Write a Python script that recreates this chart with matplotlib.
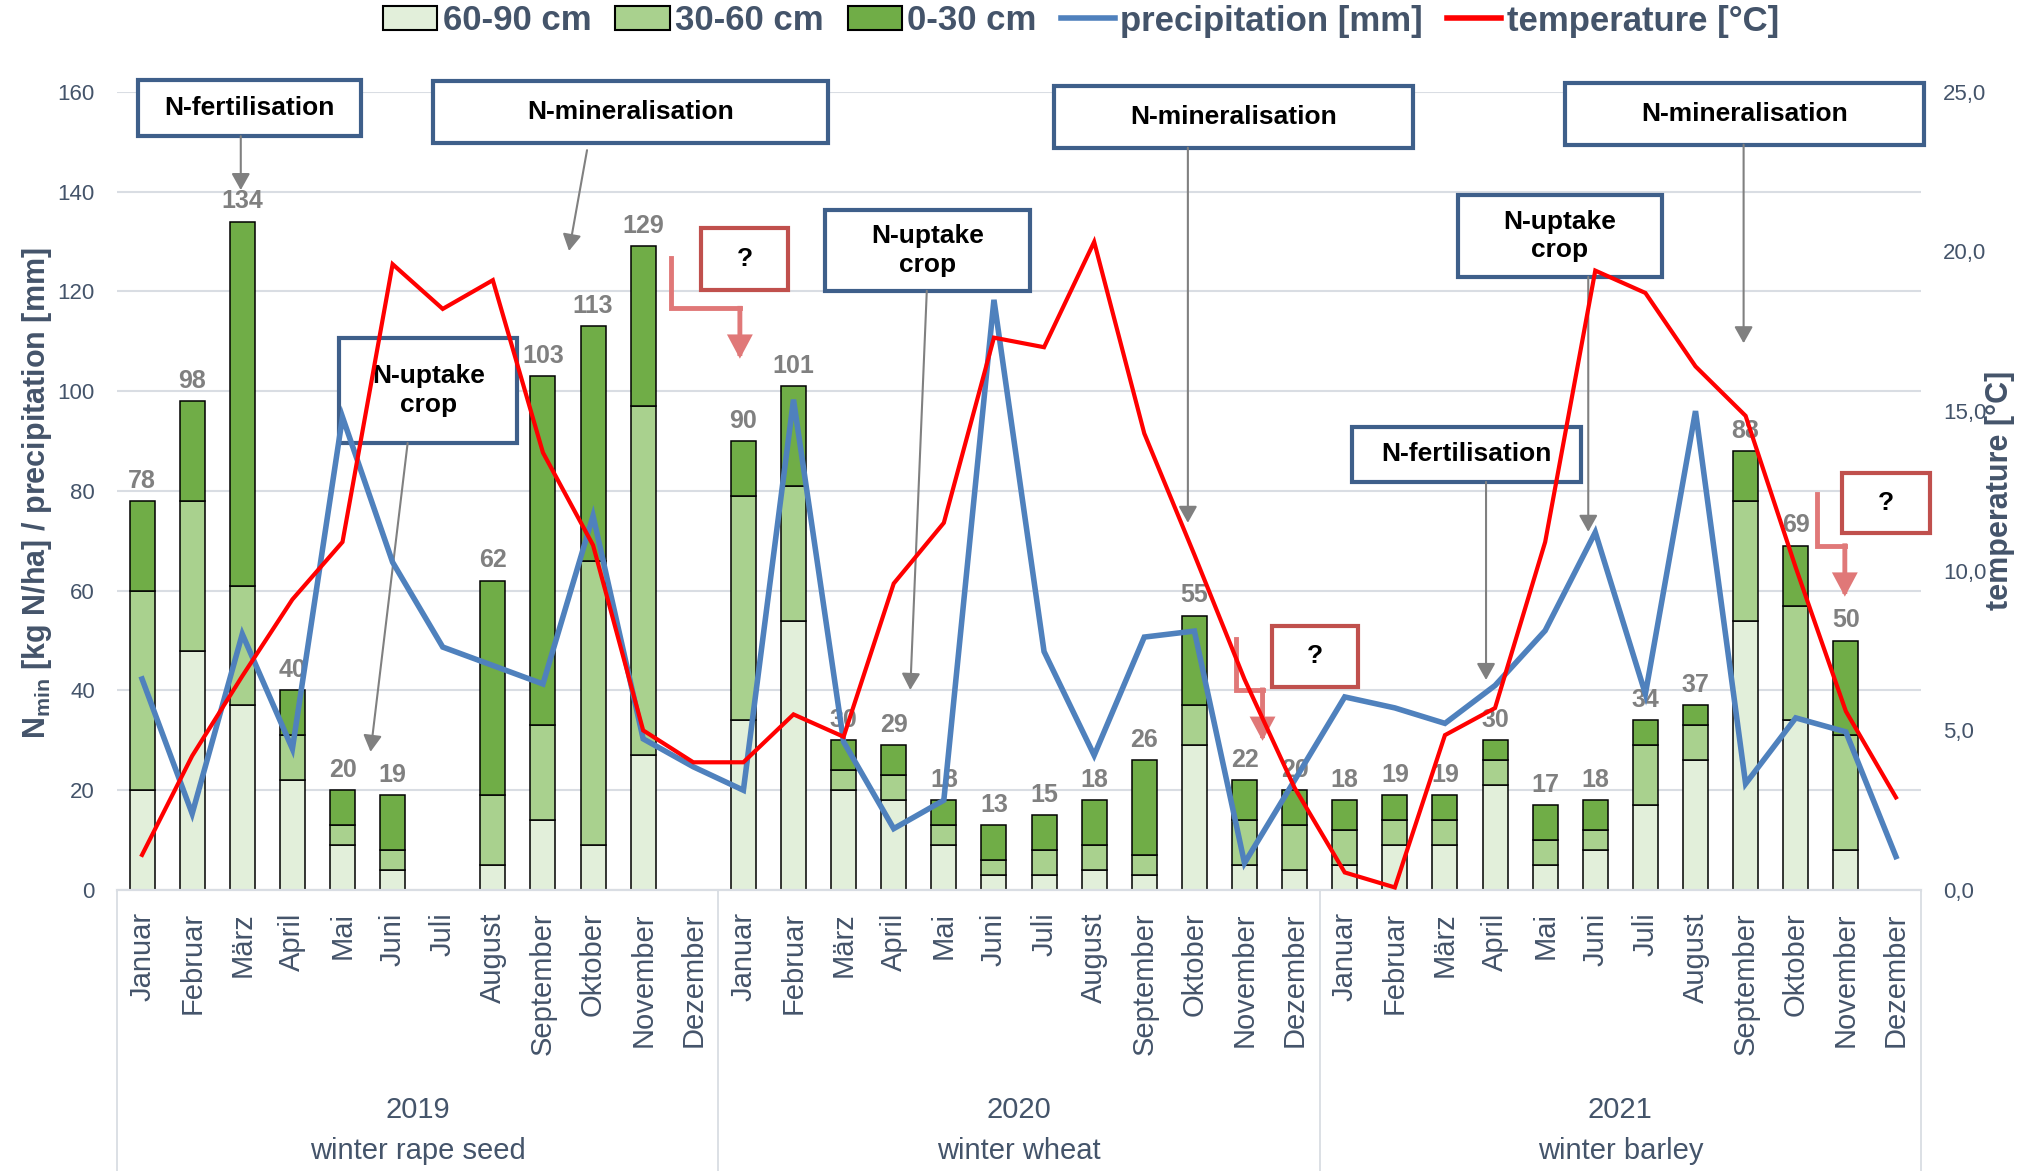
""" N_min in soil layers, precipitation and temperature 2019-2021 """

import matplotlib
matplotlib.use("Agg")
from matplotlib import pyplot as plt
from matplotlib import font_manager
from matplotlib.patches import Rectangle, Patch
from matplotlib.lines import Line2D
from matplotlib.transforms import blended_transform_factory
from numpy import array, nan, arange, isnan

months = ["Januar", "Februar", "März", "April", "Mai", "Juni", "Juli", "August",
          "September", "Oktober", "November", "Dezember"]
years = ["2019", "2020", "2021"]
crops = ["winter rape seed", "winter wheat", "winter barley"]

# N_min per soil layer [kg N/ha], Januar 2019 .. Dezember 2021
layer_60_90 = [20, 48, 37, 22, 9, 4, nan, 5, 14, 9, 27, nan,
               34, 54, 20, 18, 9, 3, 3, 4, 3, 29, 5, 4,
               5, 9, 9, 21, 5, 8, 17, 26, 54, 34, 8, nan]
layer_30_60 = [40, 30, 24, 9, 4, 4, nan, 14, 19, 57, 70, nan,
               45, 27, 4, 5, 4, 3, 5, 5, 4, 8, 9, 9,
               7, 5, 5, 5, 5, 4, 12, 7, 24, 23, 23, nan]
layer_0_30 = [18, 20, 73, 9, 7, 11, nan, 43, 70, 47, 32, nan,
              11, 20, 6, 6, 5, 7, 7, 9, 19, 18, 8, 7,
              6, 5, 5, 4, 7, 6, 5, 4, 10, 12, 19, nan]

precipitation = [42.3, 15.3, 51.3, 28.3, 94.8, 65.7, 48.7, 45.0, 41.3, 75.0, 30.3, 24.7,
                 20.0, 98.3, 29.7, 12.3, 18.0, 118.3, 47.8, 27.0, 50.7, 51.9, 5.4, 22.0,
                 38.7, 36.5, 33.4, 41.0, 52.0, 71.7, 39.3, 96.0, 21.3, 34.5, 31.7, 6.7]
temperature = [1.1, 4.2, 6.7, 9.1, 10.9, 19.6, 18.2, 19.1, 13.7, 10.8, 5.0, 4.0,
               4.0, 5.5, 4.8, 9.6, 11.5, 17.3, 17.0, 20.3, 14.3, 10.5, 6.6, 3.2,
               0.55, 0.08, 4.85, 5.7, 10.9, 19.4, 18.7, 16.4, 14.85, 10.1, 5.6, 2.9]

plt.rcParams["font.family"] = ["Liberation Sans", "DejaVu Sans"]
plt.rcParams["mathtext.fontset"] = "custom"
plt.rcParams["mathtext.rm"] = "Liberation Sans"
plt.rcParams["mathtext.bf"] = "Liberation Sans:bold"

SLATE = "#44546A"
GRID = "#D9DDE3"
BLUE_BOX = "#3E5F8A"
RED_BOX = "#C0504D"
RED_ARROW = "#E07878"

font_names = {f.name for f in font_manager.fontManager.ttflist}
if "Liberation Sans Narrow" in font_names:
	group_font = dict(family="Liberation Sans Narrow", fontsize=25)
else:
	group_font = dict(family="Liberation Sans", fontsize=21)

x = arange(len(layer_60_90))
low = array(layer_60_90, dtype=float)
mid = array(layer_30_60, dtype=float)
top = array(layer_0_30, dtype=float)
total = low + mid + top

fig = plt.figure(figsize=(20.28, 11.71), dpi=100)
ax = fig.add_axes([117/2028, 1 - 890/1171, 1804/2028, 798.2/1171])
ax2 = ax.twinx()

bar_style = dict(width=0.5, edgecolor="black", linewidth=1.1, zorder=2)
ax.bar(x, low, color="#E2EFDA", **bar_style)
ax.bar(x, mid, bottom=low, color="#A9D18E", **bar_style)
ax.bar(x, top, bottom=low + mid, color="#70AD47", **bar_style)

for i, value in enumerate(total):
	if not isnan(value):
		ax.annotate(f"{value:.0f}", (i, value), xytext=(0, 6), textcoords="offset points",
		            ha="center", va="bottom", fontsize=18, fontweight="bold", color="#808080", zorder=3)

ax.plot(x, precipitation, color="#4F81BD", linewidth=4, zorder=6, solid_joinstyle="miter")
ax2.plot(x, temperature, color="#FF0000", linewidth=3, zorder=6, solid_joinstyle="miter")

ax.set_xlim(-0.5, len(x) - 0.5)
ax.set_ylim(0, 160)
ax2.set_ylim(0, 25)
ax.set_yticks(range(0, 161, 20))
ax2.set_yticks(range(0, 26, 5))
ax2.set_yticklabels([f"{t:.1f}".replace(".", ",") for t in range(0, 26, 5)])
ax.set_xticks(x)
ax.set_xticklabels(months*len(years), rotation=90, fontsize=21, color=SLATE)
ax.tick_params(axis="x", length=0, pad=16)
ax.tick_params(axis="y", length=0, pad=16, labelsize=16, labelcolor=SLATE)
ax2.tick_params(axis="y", length=0, pad=16, labelsize=16, labelcolor=SLATE)
ax.set_axisbelow(True)
ax.yaxis.grid(True, color=GRID, linewidth=1.5)
for a in (ax, ax2):
	for side in ("top", "left", "right"):
		a.spines[side].set_visible(False)
	a.spines["bottom"].set_color(GRID)
	a.spines["bottom"].set_linewidth(1.5)

# year groups below the month labels
trans = blended_transform_factory(ax.transData, ax.transAxes)
for edge in arange(len(years) + 1)*12 - 0.5:
	ax.plot([edge, edge], [0, -0.4], transform=trans, clip_on=False, color=GRID, linewidth=1.3)
for k in range(len(years)):
	centre = k*12 + 5.5
	ax.text(centre, -0.2756, years[k], transform=trans, ha="center", va="center", color=SLATE, **group_font)
	ax.text(centre, -0.327, crops[k], transform=trans, ha="center", va="center", color=SLATE, **group_font)

fig.text(37/2028, 1 - 493/1171, r"$\mathbf{N_{min}}$ [kg N/ha] / precipitation [mm]",
         rotation=90, ha="center", va="center", fontsize=22, fontweight="bold", color=SLATE)
fig.text(2000/2028, 1 - 490/1171, "temperature [°C]",
         rotation=90, ha="center", va="center", fontsize=22, fontweight="bold", color=SLATE)

handles = [
	Patch(facecolor="#E2EFDA", edgecolor="black", linewidth=1.5),
	Patch(facecolor="#A9D18E", edgecolor="black", linewidth=1.5),
	Patch(facecolor="#70AD47", edgecolor="black", linewidth=1.5),
	Line2D([], [], color="#4F81BD", linewidth=4),
	Line2D([], [], color="#FF0000", linewidth=4),
]
labels = ["60-90 cm", "30-60 cm", "0-30 cm", "precipitation [mm]", "temperature [°C]"]
fig.legend(handles, labels, loc="center", bbox_to_anchor=(1081/2028, 1 - 21/1171), ncol=5,
           frameon=False, prop=dict(weight="bold", size=25), labelcolor=SLATE,
           handlelength=1.56, handleheight=0.68, handletextpad=0.15, columnspacing=0.7,
           borderaxespad=0, borderpad=0)


def text_box(x0, x1, y0, y1, text, edge):
	ax.add_patch(Rectangle((x0, y0), x1 - x0, y1 - y0, facecolor="white", edgecolor=edge,
	                       linewidth=3, zorder=4, clip_on=False))
	ax.text((x0 + x1)/2, (y0 + y1)/2, text, ha="center", va="center", fontsize=19,
	        fontweight="bold", color="black", zorder=4.5, clip_on=False, linespacing=1.25)


def grey_arrow(start, tip):
	ax.annotate("", xy=tip, xytext=start, zorder=4.2, annotation_clip=False,
	            arrowprops=dict(arrowstyle="-|>,head_length=0.5,head_width=0.28", mutation_scale=20,
	                            color="#808080", linewidth=1.5, shrinkA=0, shrinkB=0))


def elbow_arrow(x0, x1, y0, y1, tip_y):
	ax.plot([x0, x0, x1], [y0, y1, y1], color=RED_ARROW, linewidth=3.5, zorder=4.2,
	        solid_joinstyle="miter", clip_on=False)
	ax.annotate("", xy=(x1, tip_y), xytext=(x1, y1), zorder=4.2, annotation_clip=False,
	            arrowprops=dict(arrowstyle="-|>,head_length=0.6,head_width=0.32", mutation_scale=20,
	                            color=RED_ARROW, linewidth=3.5, shrinkA=0, shrinkB=0,
	                            joinstyle="miter", capstyle="projecting"))


# process annotations (x in months from Januar 2019, y in kg N/ha)
text_box(-0.08, 4.37, 151.1, 162.4, "N-fertilisation", BLUE_BOX)
grey_arrow((1.97, 151.1), (1.97, 140.3))
text_box(5.81, 13.69, 149.7, 162.2, "N-mineralisation", BLUE_BOX)
grey_arrow((8.88, 148.3), (8.52, 128.1))
text_box(3.94, 7.49, 89.6, 110.6, "N-uptake\ncrop", BLUE_BOX)
grey_arrow((5.30, 89.6), (4.56, 27.7))
text_box(11.15, 12.89, 120.3, 132.7, "?", RED_BOX)
elbow_arrow(10.55, 11.93, 126.7, 116.6, 106.5)

text_box(13.63, 17.72, 120.1, 136.3, "N-uptake\ncrop", BLUE_BOX)
grey_arrow((15.66, 120.1), (15.33, 40.1))
text_box(18.20, 25.36, 148.8, 161.2, "N-mineralisation", BLUE_BOX)
grey_arrow((20.87, 148.8), (20.87, 73.6))
text_box(22.54, 24.27, 40.7, 53.0, "?", RED_BOX)
elbow_arrow(21.84, 22.36, 50.3, 40.1, 29.9)

text_box(26.26, 30.33, 122.9, 139.3, "N-uptake\ncrop", BLUE_BOX)
grey_arrow((28.86, 122.9), (28.86, 71.8))
text_box(28.40, 35.56, 149.4, 161.8, "N-mineralisation", BLUE_BOX)
grey_arrow((31.96, 149.4), (31.96, 109.6))
text_box(24.15, 28.72, 81.8, 92.8, "N-fertilisation", BLUE_BOX)
grey_arrow((26.82, 81.8), (26.82, 42.1))
text_box(33.92, 35.67, 71.5, 83.6, "?", RED_BOX)
elbow_arrow(33.43, 33.98, 79.4, 69.0, 58.8)

plt.savefig("out.png", dpi=100)
